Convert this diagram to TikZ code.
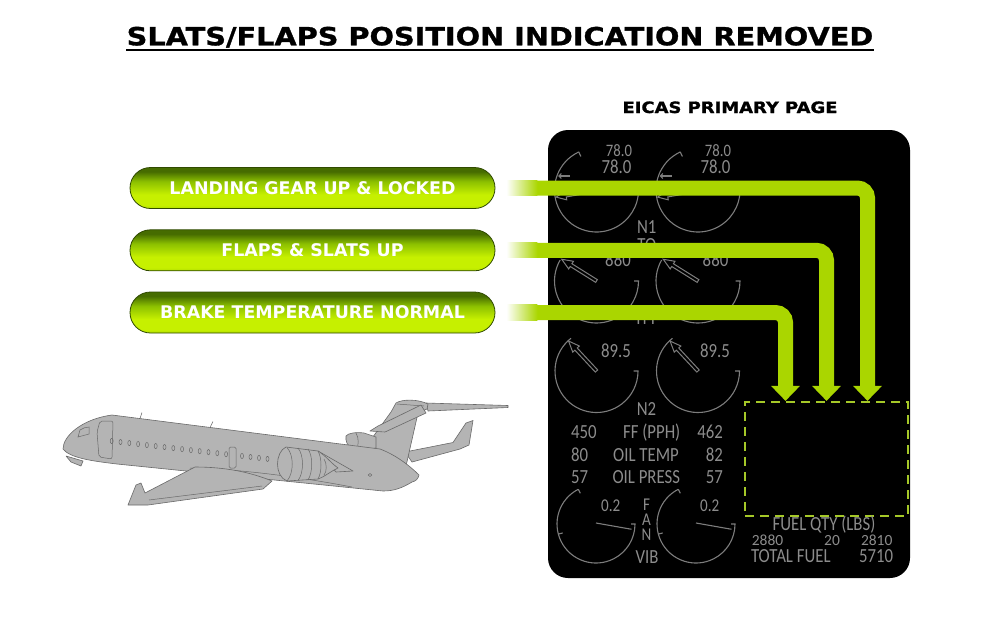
\documentclass[tikz,border=0pt]{standalone}
\usepackage{fontspec}
\setmainfont{DejaVu Sans}
\newfontfamily\hdfont{DejaVu Sans}[FakeStretch=1.15, FakeBold=1.2]
\newfontfamily\eicasfont{Carlito}[FakeStretch=0.84]
\newfontfamily\eicaswide{Carlito}
\usetikzlibrary{arrows.meta}
\definecolor{flowgreen}{RGB}{170,214,0}
\definecolor{dashgreen}{RGB}{165,200,40}
\definecolor{gaugegray}{RGB}{125,125,125}
\definecolor{txtgray}{RGB}{140,140,140}
\definecolor{btntop}{RGB}{70,108,0}
\definecolor{btnmid}{RGB}{140,192,0}
\definecolor{btnbright}{RGB}{198,240,0}
\definecolor{btnlow}{RGB}{176,222,0}
\definecolor{btnedge}{RGB}{48,74,0}
\definecolor{planefill}{RGB}{180,180,180}
\definecolor{planeline}{RGB}{105,105,105}
\pgfdeclareverticalshading{btnshade}{100bp}{color(0bp)=(btnlow); color(25bp)=(btnlow); color(29bp)=(btnbright); color(42bp)=(btnbright); color(58bp)=(btnmid); color(70bp)=(btntop); color(75bp)=(btntop); color(100bp)=(btntop)}
\tikzset{
  btn/.style={rounded corners=20.5pt, minimum width=365pt, minimum height=41pt, shading=btnshade, draw=btnedge, line width=0.8pt, text=white, font=\fontsize{17.4}{20}\selectfont\bfseries, inner sep=0pt},
  flow/.style={draw=flowgreen, line width=15pt, rounded corners=10pt, -{Triangle[width=28pt,length=15pt]}},
  gauge/.style={draw=gaugegray, line width=1.1pt},
  needle/.style={draw=gaugegray, line width=1pt, fill=black, line join=miter},
  gtxt/.style={text=txtgray, font=\eicasfont\fontsize{20}{22}\selectfont, inner sep=0pt},
  gmid/.style={text=txtgray, font=\eicasfont\fontsize{18}{20}\selectfont, inner sep=0pt},
  gsmall/.style={text=txtgray, font=\eicasfont\fontsize{17.5}{19}\selectfont, inner sep=0pt},
  gfuel/.style={text=txtgray, font=\eicaswide\fontsize{15.5}{17}\selectfont, inner sep=0pt},
  plane/.style={fill=planefill, draw=planeline, line width=0.6pt, line join=round},
  pdetail/.style={draw=planeline, line width=0.5pt},
  fuelbox/.style={draw=dashgreen, line width=2pt, dash pattern=on 9pt off 6pt, minimum width=163pt, minimum height=114pt, inner sep=0pt},
  hd/.style={font=\hdfont\bfseries, inner sep=0pt}
}
\begin{document}
\begin{tikzpicture}[x=1pt,y=-1pt]
\fill[white] (0,0) rectangle (1000,625);
\useasboundingbox (0,0) rectangle (1000,625);

% title
\node[hd, font=\hdfont\bfseries\fontsize{25}{28}\selectfont, anchor=base] (title) at (500,45.3) {SLATS/FLAPS POSITION INDICATION REMOVED};
\draw[line width=1.8pt] ([yshift=-4.4pt]title.base west) -- ([yshift=-4.4pt]title.base east);
\node[hd, font=\hdfont\bfseries\fontsize{15.6}{18}\selectfont, anchor=base] (eicas) at (730,113) {EICAS PRIMARY PAGE};

% panel
\fill[black, rounded corners=20pt] (548,130) rectangle (910,578);

% gauges
\foreach \dx/\fx in {0/0, 101.5/100} {
  % N1
  \draw[gauge] (596.5+\dx,190) ++(-115:42) arc[start angle=-115, end angle=-360, radius=42];
  \draw[gauge] (596.5+\dx,190) ++(-115:37) -- ++(-115:5);
  \draw[gauge, -{Straight Barb[length=2.5pt,width=5pt]}] (570+\dx,176) -- (558+\dx,176);
  \begin{scope}[shift={(596.5+\dx,190)}, rotate=190]
    \draw[needle] (11,-1.6) -- (31,-1.6) -- (31,-4.5) -- (41,0) -- (31,4.5) -- (31,1.6) -- (11,1.6) -- cycle;
  \end{scope}
  % ITT
  \draw[gauge] (596.5+\dx,281) ++(-150:42) arc[start angle=-150, end angle=-360, radius=42] -- ++(-4.5,0);
  \begin{scope}[shift={(596.5+\dx,281)}, rotate=148]
    \draw[needle] (0,-1.6) -- (30,-1.6) -- (30,-4.5) -- (41,0) -- (30,4.5) -- (30,1.6) -- (0,1.6) -- cycle;
  \end{scope}
  % N2
  \draw[gauge] (596.5+\dx,371) ++(-128:41.5) arc[start angle=-128, end angle=-360, radius=41.5] -- ++(-4.5,0);
  \begin{scope}[shift={(596.5+\dx,371)}, rotate=133]
    \draw[needle] (0,-1.6) -- (30,-1.6) -- (30,-4.5) -- (41,0) -- (30,4.5) -- (30,1.6) -- (0,1.6) -- cycle;
  \end{scope}
  % FAN VIB
  \draw[gauge] (596+\fx,524) ++(-117:39) arc[start angle=-117, end angle=-360, radius=39] -- ++(-4,0);
  \draw[gauge] (596+\fx,524) ++(-117:34.5) -- ++(-117:4.5);
  \draw[gauge] (596+\fx,524) ++(-195:34.5) -- ++(-195:4.5);
  \draw[gauge] (596+\fx,523) -- ++(10:36);
}

% gauge texts
\node[gsmall, anchor=base] (n1sl) at (619,156.2) {78.0};
\node[gsmall, anchor=base] (n1sr) at (718,156.2) {78.0};
\node[gtxt, anchor=base] (n1bl) at (616.5,173.3) {78.0};
\node[gtxt, anchor=base] (n1br) at (715.5,173.3) {78.0};
\node[gtxt, anchor=base] (n1lab) at (646.7,233.3) {N1};
\node[gtxt, anchor=base] (tolab) at (646.7,251) {TO};
\node[gtxt, anchor=base] (ittl) at (618,266.7) {880};
\node[gtxt, anchor=base] (ittr) at (715.5,266.7) {880};
\node[gtxt, anchor=base] (ittlab) at (646.7,324.5) {ITT};
\node[gtxt, anchor=base] (n2l) at (616,357.3) {89.5};
\node[gtxt, anchor=base] (n2r) at (715,357.3) {89.5};
\node[gtxt, anchor=base] (n2lab) at (646.5,415) {N2};
\node[gtxt, anchor=base west] (ffl) at (571,438.3) {450};
\node[gtxt, anchor=base] (fflab) at (651.7,438.3) {FF (PPH)};
\node[gtxt, anchor=base east] (ffr) at (723,438.3) {462};
\node[gtxt, anchor=base west] (otl) at (571,461.7) {80};
\node[gtxt, anchor=base] (otlab) at (646,461.7) {OIL TEMP};
\node[gtxt, anchor=base east] (otr) at (723,461.7) {82};
\node[gtxt, anchor=base west] (opl) at (571,483.3) {57};
\node[gtxt, anchor=base] (oplab) at (646.3,483.3) {OIL PRESS};
\node[gtxt, anchor=base east] (opr) at (723,483.3) {57};
\node[gmid, anchor=base] (vibl) at (610.8,511.7) {0.2};
\node[gmid, anchor=base] (vibr) at (709.7,511.7) {0.2};
\node[gmid, anchor=base] (fanf) at (646.5,510) {F};
\node[gmid, anchor=base] (fana) at (646.5,525) {A};
\node[gmid, anchor=base] (fann) at (646.5,540) {N};
\node[gtxt, anchor=base] (viblab) at (647,563.3) {VIB};

% fuel box
\node[fuelbox] (fuel) at (826.5,458.9) {};
\node[gtxt, anchor=base] (fqlab) at (824,530) {FUEL QTY (LBS)};
\node[gfuel, anchor=base] (fq1) at (767.5,545.5) {2880};
\node[gfuel, anchor=base] (fq2) at (832,545.5) {20};
\node[gfuel, anchor=base] (fq3) at (876.7,545.5) {2810};
\node[gtxt, anchor=base] (tflab) at (790.8,562.7) {TOTAL FUEL};
\node[gtxt, anchor=base] (tfval) at (876.2,562.7) {5710};

% buttons
\node[btn] (b1) at (312.5,188) {LANDING GEAR UP \& LOCKED};
\node[btn] (b2) at (312.5,250.3) {FLAPS \& SLATS UP};
\node[btn] (b3) at (312.5,312.5) {BRAKE TEMPERATURE NORMAL};

% connectors
\draw[flow] ([xshift=13pt]b1.east) -| ([xshift=41pt]fuel.north);
\draw[flow] ([xshift=13pt]b2.east) -| (fuel.north);
\draw[flow] ([xshift=13pt]b3.east) -| ([xshift=-41pt]fuel.north);
\foreach \b in {b1,b2,b3} {
  \shade[left color=white, right color=flowgreen] ([xshift=11pt,yshift=7.6pt]\b.east) rectangle ([xshift=42pt,yshift=-7.6pt]\b.east);
}

% airplane
\filldraw[plane] (426,403) -- (508,405.5) -- (508,407.5) -- (428,411) -- cycle;
\filldraw[plane] (405,452) -- (453,442.5) -- (466,423) -- (473,420.5) -- (469,445) -- (460,449) -- (412,462) -- cycle;
\filldraw[plane] (362,452) -- (391,412) -- (396,403) .. controls (402,399) and (418,399) .. (428,404) -- (427,409) -- (418,413) -- (406,466) -- cycle;
\draw[pdetail] (397,404) -- (424,406);
\filldraw[plane] (421,405) -- (378,426) -- (370,431) -- (385,432) -- (426,413) -- cycle;
\filldraw[plane] (346,436) .. controls (348,433) and (356,432) .. (364,433) -- (376,437) -- (376,448) -- (362,450) .. controls (352,450) and (345,446) .. (346,436) -- cycle;
\draw[pdetail] (356,433) .. controls (359,438) and (359,446) .. (356,450);
\filldraw[plane] (63,449) .. controls (63,436) and (82,419) .. (112,415) -- (380,449) .. controls (396,455) and (410,466) .. (419,475) .. controls (418,479) and (416,481) .. (412,482) .. controls (402,488) and (394,491) .. (383,491) -- (117,464) .. controls (92,461) and (70,458) .. (63,449) -- cycle;
\filldraw[plane] (66,456) -- (83,461) -- (81,466) -- (71,462) -- cycle;
\draw[pdetail] (78,437) -- (80,430) .. controls (83,428) and (86,427) .. (89,427) -- (89,434) -- cycle;
\draw[pdetail, rounded corners=2pt] (100,421) -- (113,421) -- (112,459) -- (99,457) -- (97,432) -- cycle;
\foreach \i in {0,...,13} {
  \draw[pdetail] ({111.7+8.8*\i},{441+0.115*8.8*\i}) ellipse[x radius=1.5, y radius=2.6];
}
\foreach \wx in {242,250.5,259,267.5} {
  \draw[pdetail] (\wx,{441+0.115*(\wx-111.7)}) ellipse[x radius=1.5, y radius=2.6];
}
\draw[pdetail, rounded corners=1.5pt] (229,447) rectangle (236,468);
\draw[pdetail] (140,418.5) -- (142,412.5);
\draw[pdetail] (210,427.4) -- (213,421.5);
\draw[pdetail] (190,468) .. controls (240,469) and (300,477) .. (352,487);
\filldraw[plane] (318,451) -- (353,471) -- (336,472) -- cycle;
\filldraw[plane] (286,447) .. controls (275,452) and (274,476) .. (287,481) -- (318,479) .. controls (326,476) and (331,471) .. (338,468) .. controls (331,463) and (326,456) .. (318,451) -- cycle;
\draw[pdetail] (287,447.5) .. controls (294,455) and (294,473) .. (287,481);
\draw[pdetail] (298,448) .. controls (304,455) and (304,473) .. (298,480.5);
\draw[pdetail] (308,449) .. controls (313,456) and (313,472) .. (308,480);
\draw[pdetail] (318,451) .. controls (322,458) and (322,472) .. (318,479);
\draw[pdetail] (324,459) .. controls (327,463) and (327,472) .. (324,475);
\draw[pdetail] (370,475) ellipse[x radius=1.8, y radius=1.5];
\filldraw[plane] (195,467) -- (145,493) -- (141,483) -- (136,485) -- (128,505) -- (148,505) -- (263,489) -- (272,481) .. controls (250,472) and (225,467) .. (195,467) -- cycle;
\draw[pdetail] (149,500) -- (262,486);
\end{tikzpicture}
\end{document}
